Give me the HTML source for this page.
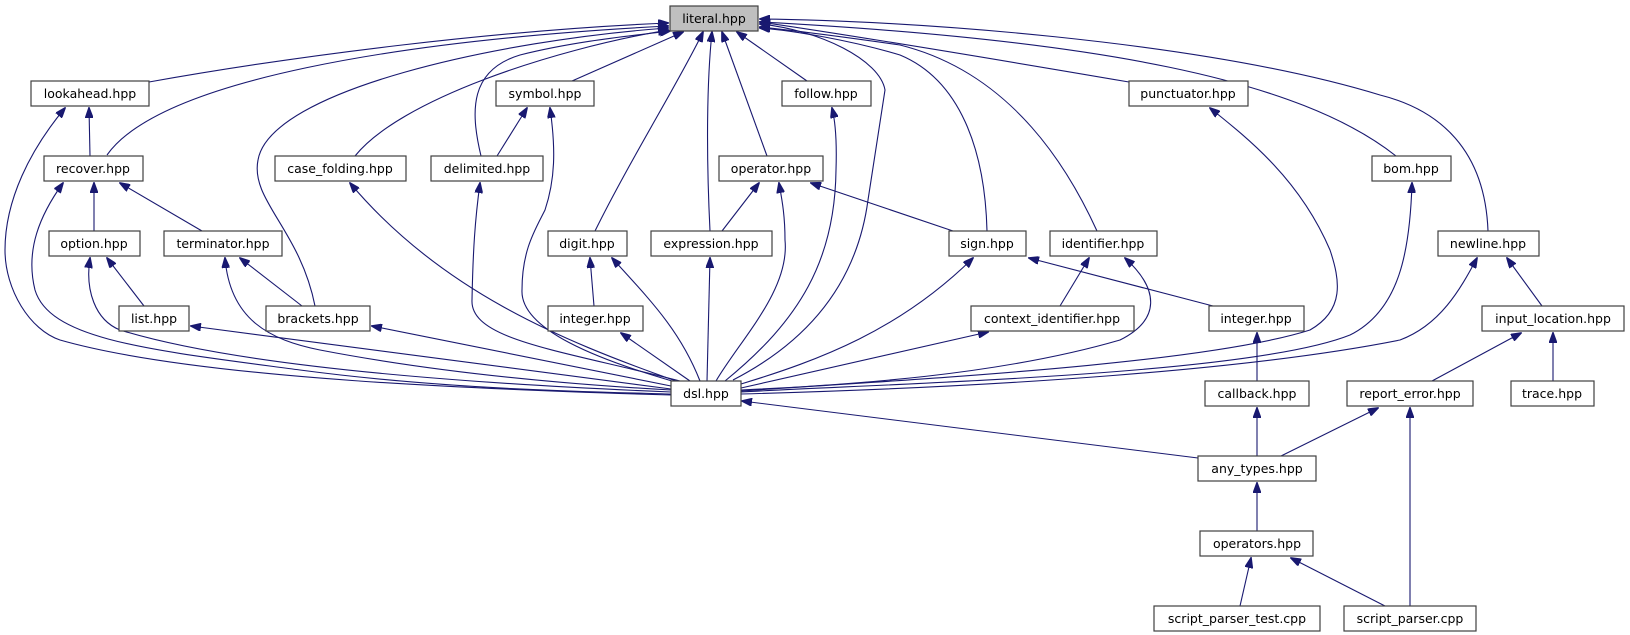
<!DOCTYPE html>
<html><head><meta charset="utf-8"><style>
html,body{margin:0;padding:0;background:#fff;}
svg{display:block;}
text{font-family:"DejaVu Sans","Liberation Sans",sans-serif;font-size:12.5px;fill:#000;}
.e{fill:none;stroke:#191970;stroke-width:1.1;marker-end:url(#a);}
.n{fill:#fff;stroke:#404040;stroke-width:1.2;}
</style></head><body>
<svg width="1630" height="635" viewBox="0 0 1630 635" xmlns="http://www.w3.org/2000/svg">
<defs><marker id="a" markerUnits="userSpaceOnUse" markerWidth="11" markerHeight="8" refX="10" refY="4" orient="auto"><path d="M0,0 L11,4 L0,8 z" fill="#191970" stroke="#191970"/></marker></defs>
<rect width="1630" height="635" fill="#fff"/>
<g>
<!-- to literal -->
<path class="e" d="M149,82 C300,55 500,30 668,23"/>
<path class="e" d="M107,155 C160,80 400,40 668,26"/>
<path class="e" d="M315,306 C300,230 250,200 258,160 C270,90 500,40 668,28"/>
<path class="e" d="M355,156 C400,100 550,50 668,30"/>
<path class="e" d="M481,156 C470,110 470,70 520,55 C580,40 640,35 670,31"/>
<path class="e" d="M572,81 L683,32"/>
<path class="e" d="M595,231 C630,160 680,80 703,32"/>
<path class="e" d="M710,231 C706,150 707,80 712,32"/>
<path class="e" d="M767,156 L722,32"/>
<path class="e" d="M807,81 L737,32"/>
<path class="e" d="M987,231 C985,150 960,80 900,55 C850,40 790,30 760,28"/>
<path class="e" d="M1097,231 C1060,150 1000,70 900,45 C830,35 790,30 760,27"/>
<path class="e" d="M1129,82 C1000,60 850,35 760,22"/>
<path class="e" d="M1396,156 C1300,80 1100,40 760,22"/>
<path class="e" d="M1488,231 C1485,150 1440,110 1380,95 C1200,40 900,20 760,19"/>
<path class="e" d="M733,380 C830,330 860,260 868,200 L885,90 C880,60 820,30 760,24"/>
<!-- to dsl -->
<path class="e" d="M671,395 C500,390 200,380 60,340 C30,330 5,290 5,250 C5,200 30,150 65,108"/>
<path class="e" d="M671,394 C600,392 450,390 300,370 C150,350 50,340 35,290 C25,250 40,215 63,183"/>
<path class="e" d="M671,392 C500,385 250,370 120,330 C95,320 85,290 90,258"/>
<path class="e" d="M671,390 C580,385 450,375 320,350 C270,340 230,320 225,258"/>
<path class="e" d="M671,389 L191,326"/>
<path class="e" d="M671,386 L372,326"/>
<path class="e" d="M676,381 C560,340 440,290 350,183"/>
<path class="e" d="M680,381 C560,350 470,340 472,300 C473,250 475,220 480,183"/>
<path class="e" d="M672,381 C600,360 520,330 522,290 C522,250 535,230 545,210 C555,180 556,150 550,108"/>
<path class="e" d="M700,381 C680,330 650,300 612,258"/>
<path class="e" d="M690,381 L621,333"/>
<path class="e" d="M707,381 L710,258"/>
<path class="e" d="M716,381 C740,340 790,290 785,240 C785,215 782,200 779,183"/>
<path class="e" d="M725,381 C800,320 835,260 836,170 C837,140 835,120 832,108"/>
<path class="e" d="M741,384 C820,360 900,330 973,258"/>
<path class="e" d="M741,388 L988,332"/>
<path class="e" d="M741,390 C850,385 1000,375 1120,340 C1160,320 1160,290 1125,258"/>
<path class="e" d="M741,391 C900,380 1200,365 1310,330 C1345,310 1340,280 1330,250 C1300,180 1250,140 1210,108"/>
<path class="e" d="M741,392 C900,383 1250,375 1350,335 C1400,310 1410,250 1412,183"/>
<path class="e" d="M741,394 C1000,387 1250,370 1400,340 C1440,325 1460,290 1477,258"/>
<path class="e" d="M1198,458 L742,401"/>
<!-- others -->
<path class="e" d="M90,156 L89,108"/>
<path class="e" d="M94,231 L94,183"/>
<path class="e" d="M202,231 L120,183"/>
<path class="e" d="M144,306 L107,258"/>
<path class="e" d="M302,306 L240,258"/>
<path class="e" d="M497,156 L527,108"/>
<path class="e" d="M594,306 L590,258"/>
<path class="e" d="M722,231 L759,183"/>
<path class="e" d="M953,231 L811,183"/>
<path class="e" d="M1213,306 L1029,258"/>
<path class="e" d="M1060,306 L1089,258"/>
<path class="e" d="M1257,381 L1257,333"/>
<path class="e" d="M1542,306 L1507,258"/>
<path class="e" d="M1432,381 L1521,333"/>
<path class="e" d="M1553,381 L1553,333"/>
<path class="e" d="M1257,456 L1257,408"/>
<path class="e" d="M1281,456 L1378,408"/>
<path class="e" d="M1257,531 L1257,483"/>
<path class="e" d="M1240,606 L1251,558"/>
<path class="e" d="M1385,606 L1291,558"/>
<path class="e" d="M1410,606 L1410,408"/>
</g>
<g text-anchor="middle">
<rect x="670" y="6" width="88" height="25" fill="#bfbfbf" stroke="#404040" stroke-width="1.2"/><text x="714" y="23">literal.hpp</text>
<rect class="n" x="31" y="81" width="118" height="25"/><text x="90" y="98">lookahead.hpp</text>
<rect class="n" x="496" y="81" width="98" height="25"/><text x="545" y="98">symbol.hpp</text>
<rect class="n" x="782" y="81" width="89" height="25"/><text x="826" y="98">follow.hpp</text>
<rect class="n" x="1129" y="81" width="119" height="25"/><text x="1188" y="98">punctuator.hpp</text>
<rect class="n" x="44" y="156" width="99" height="25"/><text x="93" y="173">recover.hpp</text>
<rect class="n" x="275" y="156" width="131" height="25"/><text x="340" y="173">case_folding.hpp</text>
<rect class="n" x="431" y="156" width="112" height="25"/><text x="487" y="173">delimited.hpp</text>
<rect class="n" x="719" y="156" width="104" height="25"/><text x="771" y="173">operator.hpp</text>
<rect class="n" x="1372" y="156" width="79" height="25"/><text x="1411" y="173">bom.hpp</text>
<rect class="n" x="49" y="231" width="91" height="25"/><text x="94" y="248">option.hpp</text>
<rect class="n" x="164" y="231" width="118" height="25"/><text x="223" y="248">terminator.hpp</text>
<rect class="n" x="548" y="231" width="79" height="25"/><text x="587" y="248">digit.hpp</text>
<rect class="n" x="651" y="231" width="121" height="25"/><text x="711" y="248">expression.hpp</text>
<rect class="n" x="949" y="231" width="77" height="25"/><text x="987" y="248">sign.hpp</text>
<rect class="n" x="1050" y="231" width="107" height="25"/><text x="1103" y="248">identifier.hpp</text>
<rect class="n" x="1438" y="231" width="101" height="25"/><text x="1488" y="248">newline.hpp</text>
<rect class="n" x="119" y="306" width="70" height="25"/><text x="154" y="323">list.hpp</text>
<rect class="n" x="266" y="306" width="104" height="25"/><text x="318" y="323">brackets.hpp</text>
<rect class="n" x="548" y="306" width="95" height="25"/><text x="595" y="323">integer.hpp</text>
<rect class="n" x="971" y="306" width="163" height="25"/><text x="1052" y="323">context_identifier.hpp</text>
<rect class="n" x="1209" y="306" width="95" height="25"/><text x="1256" y="323">integer.hpp</text>
<rect class="n" x="1482" y="306" width="142" height="25"/><text x="1553" y="323">input_location.hpp</text>
<rect class="n" x="671" y="381" width="70" height="25"/><text x="706" y="398">dsl.hpp</text>
<rect class="n" x="1205" y="381" width="104" height="25"/><text x="1257" y="398">callback.hpp</text>
<rect class="n" x="1347" y="381" width="126" height="25"/><text x="1410" y="398">report_error.hpp</text>
<rect class="n" x="1511" y="381" width="83" height="25"/><text x="1552" y="398">trace.hpp</text>
<rect class="n" x="1198" y="456" width="118" height="25"/><text x="1257" y="473">any_types.hpp</text>
<rect class="n" x="1200" y="531" width="113" height="25"/><text x="1257" y="548">operators.hpp</text>
<rect class="n" x="1154" y="606" width="166" height="25"/><text x="1237" y="623">script_parser_test.cpp</text>
<rect class="n" x="1344" y="606" width="132" height="25"/><text x="1410" y="623">script_parser.cpp</text>
</g>
</svg>
</body></html>
